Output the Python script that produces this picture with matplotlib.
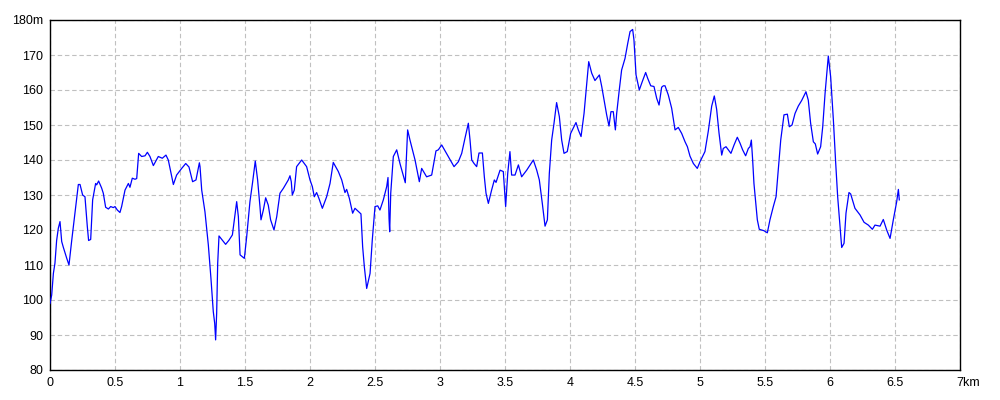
import matplotlib
matplotlib.use("Agg")
import matplotlib.pyplot as plt
import matplotlib.transforms as mtransforms
from matplotlib.ticker import FixedLocator

distance_km = [
    0.000, 0.013, 0.026, 0.038, 0.051, 0.064, 0.077, 0.090, 0.103, 0.128,
    0.146, 0.167, 0.192, 0.218, 0.231, 0.251, 0.269, 0.287, 0.297, 0.313,
    0.328, 0.351, 0.359, 0.374, 0.397, 0.410, 0.428, 0.449, 0.467, 0.487,
    0.500, 0.518, 0.538, 0.551, 0.577, 0.603, 0.615, 0.633, 0.654, 0.667,
    0.682, 0.705, 0.731, 0.749, 0.769, 0.795, 0.833, 0.864, 0.892, 0.910,
    0.949, 0.974, 1.013, 1.044, 1.069, 1.097, 1.123, 1.149, 1.154, 1.167,
    1.192, 1.218, 1.238, 1.256, 1.267, 1.274, 1.282, 1.290, 1.300, 1.321,
    1.351, 1.377, 1.403, 1.418, 1.436, 1.449, 1.462, 1.495, 1.513, 1.538,
    1.559, 1.579, 1.597, 1.615, 1.623, 1.641, 1.659, 1.679, 1.697, 1.723,
    1.744, 1.769, 1.795, 1.833, 1.846, 1.856, 1.864, 1.879, 1.897, 1.936,
    1.974, 2.000, 2.018, 2.033, 2.051, 2.069, 2.095, 2.128, 2.154, 2.179,
    2.218, 2.244, 2.269, 2.282, 2.303, 2.328, 2.346, 2.392, 2.405, 2.418,
    2.436, 2.462, 2.479, 2.500, 2.521, 2.538, 2.564, 2.590, 2.600, 2.608,
    2.613, 2.621, 2.641, 2.667, 2.692, 2.733, 2.751, 2.769, 2.808, 2.841,
    2.859, 2.897, 2.936, 2.969, 2.987, 3.013, 3.064, 3.108, 3.141, 3.167,
    3.192, 3.218, 3.231, 3.244, 3.262, 3.282, 3.300, 3.326, 3.341, 3.354,
    3.372, 3.397, 3.418, 3.431, 3.462, 3.487, 3.505, 3.521, 3.538, 3.551,
    3.577, 3.603, 3.628, 3.667, 3.718, 3.744, 3.764, 3.787, 3.808, 3.826,
    3.841, 3.859, 3.877, 3.897, 3.918, 3.936, 3.954, 3.979, 4.005, 4.046,
    4.064, 4.085, 4.108, 4.128, 4.144, 4.167, 4.192, 4.226, 4.244, 4.262,
    4.282, 4.300, 4.315, 4.333, 4.349, 4.359, 4.379, 4.397, 4.423, 4.444,
    4.462, 4.482, 4.492, 4.508, 4.533, 4.556, 4.582, 4.598, 4.621, 4.646,
    4.667, 4.685, 4.705, 4.718, 4.731, 4.756, 4.782, 4.808, 4.833, 4.859,
    4.885, 4.903, 4.923, 4.949, 4.979, 5.000, 5.038, 5.064, 5.090, 5.110,
    5.128, 5.146, 5.167, 5.179, 5.200, 5.238, 5.262, 5.287, 5.308, 5.328,
    5.351, 5.372, 5.385, 5.395, 5.405, 5.415, 5.428, 5.441, 5.456, 5.474,
    5.492, 5.518, 5.538, 5.564, 5.585, 5.603, 5.621, 5.646, 5.672, 5.687,
    5.708, 5.731, 5.756, 5.782, 5.815, 5.833, 5.851, 5.872, 5.887, 5.905,
    5.928, 5.944, 5.962, 5.987, 6.005, 6.026, 6.044, 6.059, 6.077, 6.090,
    6.108, 6.123, 6.146, 6.159, 6.192, 6.231, 6.262, 6.295, 6.326, 6.346,
    6.385, 6.410, 6.436, 6.462, 6.487, 6.513, 6.526, 6.533,
]
elevation_m = [
    99.0, 101.4, 107.6, 110.5, 117.0, 120.5, 122.4, 116.7, 115.0, 112.0,
    110.0, 117.0, 124.8, 133.0, 133.0, 130.0, 129.5, 121.0, 117.0, 117.3,
    128.6, 133.3, 132.9, 134.0, 132.0, 130.5, 126.5, 126.0, 126.7, 126.4,
    126.7, 125.7, 125.0, 126.7, 131.4, 133.3, 132.2, 134.8, 134.5, 134.7,
    141.9, 141.0, 141.2, 142.2, 141.0, 138.4, 141.0, 140.5, 141.4, 140.0,
    133.0, 135.7, 137.6, 139.0, 138.0, 133.8, 134.3, 139.2, 138.1, 131.4,
    125.2, 115.7, 106.2, 96.7, 93.3, 88.6, 96.2, 110.5, 118.3, 117.3,
    115.9, 117.1, 118.6, 122.9, 128.1, 123.8, 112.9, 111.9, 118.1, 128.1,
    133.8, 139.7, 134.3, 126.7, 122.9, 125.7, 129.2, 127.1, 122.9, 120.0,
    123.8, 130.5, 131.9, 134.3, 135.5, 133.8, 130.0, 131.4, 138.1, 140.0,
    138.1, 134.3, 132.4, 129.5, 130.7, 129.0, 126.2, 129.5, 133.3, 139.3,
    136.7, 134.3, 130.7, 131.6, 129.0, 124.8, 126.2, 124.6, 115.2, 109.5,
    103.3, 107.6, 117.1, 126.7, 126.9, 125.7, 128.6, 132.4, 135.0, 123.3,
    119.5, 130.5, 141.0, 142.9, 139.0, 133.5, 148.6, 145.7, 140.0, 133.8,
    137.6, 135.2, 135.7, 142.6, 142.9, 144.3, 141.0, 138.1, 139.5, 141.9,
    146.2, 150.5, 145.7, 140.0, 139.0, 138.1, 142.0, 142.0, 135.2, 130.5,
    127.6, 131.4, 134.3, 133.6, 137.1, 136.7, 126.7, 136.2, 142.4, 135.7,
    135.7, 138.6, 135.2, 137.1, 140.0, 137.1, 134.3, 127.6, 121.1, 122.9,
    136.2, 145.7, 150.5, 156.4, 152.4, 145.7, 141.9, 142.4, 147.6, 150.7,
    148.6, 146.7, 153.3, 161.4, 168.1, 164.8, 162.7, 164.3, 161.0, 157.1,
    152.9, 149.7, 153.8, 153.8, 148.6, 153.3, 160.0, 165.7, 169.0, 173.3,
    176.7, 177.3, 174.3, 164.3, 160.0, 162.4, 165.0, 163.3, 161.2, 161.0,
    157.6, 155.7, 160.8, 161.2, 161.2, 158.6, 154.8, 148.6, 149.3, 147.6,
    145.2, 143.8, 141.1, 139.0, 137.6, 139.5, 142.4, 148.3, 155.4, 158.3,
    154.5, 147.8, 141.4, 143.3, 143.8, 141.9, 144.3, 146.5, 144.8, 142.9,
    141.2, 143.3, 143.8, 145.7, 140.0, 133.3, 128.1, 122.9, 120.2, 120.0,
    119.8, 119.2, 122.9, 126.7, 129.5, 137.6, 145.7, 152.9, 153.1, 149.5,
    150.0, 153.3, 155.4, 157.0, 159.5, 157.1, 150.5, 145.2, 144.6, 141.7,
    143.8, 149.5, 159.0, 169.7, 163.8, 151.4, 139.0, 129.5, 121.0, 115.0,
    116.2, 124.8, 130.7, 130.3, 126.2, 124.3, 122.2, 121.4, 120.2, 121.4,
    121.1, 123.0, 120.0, 117.6, 122.9, 128.1, 131.6, 128.6,
]

x_ticks = [0, 0.5, 1, 1.5, 2, 2.5, 3, 3.5, 4, 4.5, 5, 5.5, 6, 6.5, 7]
x_tick_labels = ["0", "0.5", "1", "1.5", "2", "2.5", "3", "3.5", "4",
                 "4.5", "5", "5.5", "6", "6.5", "7km"]
y_ticks = [80, 90, 100, 110, 120, 130, 140, 150, 160, 170, 180]
y_tick_labels = ["80", "90", "100", "110", "120", "130", "140", "150",
                 "160", "170", "180m"]

plt.rcParams["font.family"] = ["Liberation Sans", "DejaVu Sans"]

fig = plt.figure(figsize=(10, 4), dpi=100)
fig.patch.set_facecolor("white")
ax = fig.add_axes([0.050, 0.075, 0.910, 0.875])

ax.plot(distance_km, elevation_m, color="#0000ff", lw=0.9, zorder=3)

ax.set_xlim(0, 7)
ax.set_ylim(80, 180)
ax.xaxis.set_major_locator(FixedLocator(x_ticks))
ax.yaxis.set_major_locator(FixedLocator(y_ticks))
ax.set_xticklabels(x_tick_labels)
ax.set_yticklabels(y_tick_labels)
ax.tick_params(axis="both", length=0, labelsize=9, colors="black", pad=5)

# last x label "7km": the "7" sits on the tick, "km" runs to the right
last = ax.get_xticklabels()[-1]
last.set_horizontalalignment("left")
last.set_transform(last.get_transform() +
                   mtransforms.ScaledTranslation(-4 / 100, 0, fig.dpi_scale_trans))

ax.grid(True, color="#c0c0c0", linestyle=(0, (4, 2.5)), linewidth=0.8, zorder=1)
for s in ax.spines.values():
    s.set_color("black")
    s.set_linewidth(1.0)

fig.savefig("out.png", dpi=100, facecolor="white")
